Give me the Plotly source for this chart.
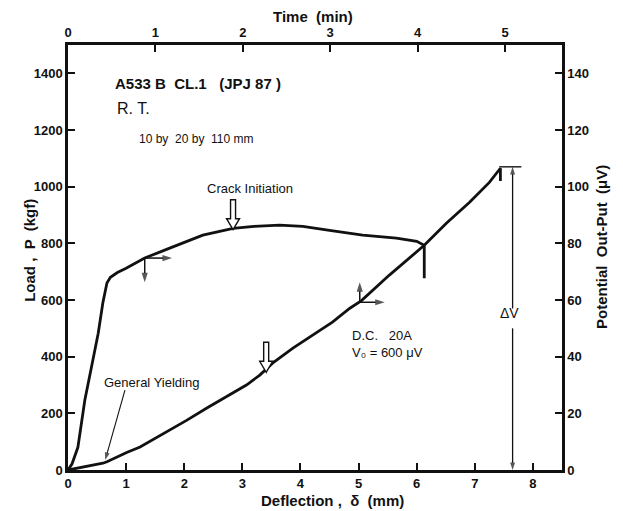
import plotly.graph_objects as go

# ---- data ----
defl_load = [0, 0.07, 0.17, 0.29, 0.43, 0.52, 0.6, 0.67, 0.73, 0.85, 1.0, 1.32, 1.75, 2.32, 2.84,
             3.2, 3.64, 4.04, 4.5, 5.07, 5.65, 6.0, 6.13, 6.13]
load_kgf = [0, 22, 80, 247, 390, 483, 590, 660, 680, 697, 712, 748, 783, 829, 853,
            860, 864, 860, 846, 829, 818, 807, 793, 677]

defl_pot = [0, 0.26, 0.6, 0.67, 1.01, 1.24, 1.53, 2.04, 2.39, 3.07, 3.3, 3.52, 3.87, 4.21,
            4.55, 4.85, 5.05, 5.53, 6.13, 6.51, 6.91, 7.25, 7.44, 7.44]
pot_uv = [0, 1.0, 2.4, 2.9, 6.2, 8.1, 11.5, 17.5, 21.9, 30.0, 33.5, 37.7, 43.0, 47.6,
          52.2, 57.1, 59.8, 68.8, 79.3, 87.1, 94.5, 101.5, 106.5, 102]

x_ticks = [0, 1, 2, 3, 4, 5, 6, 7, 8]
time_ticks = [0, 1, 2, 3, 4, 5]
load_ticks = [0, 200, 400, 600, 800, 1000, 1200, 1400]
pot_ticks = [0, 20, 40, 60, 80, 100, 120, 140]

x_range = [0, 8.5]
time_range = [0, 5.652]
load_range = [0, 1500]
pot_range = [0, 150]

# annotation anchors
crack_arrow = (2.84, 848)        # tip, load axis
pot_hollow_arrow = (3.41, 34.5)  # tip, potential axis
load_dir_pt = (1.32, 748)
load_dir_ends = (663, 1.79)
pot_dir_pt = (5.02, 59.2)
pot_dir_ends = (66.3, 5.45)
dv_x = 7.65
dv_top = 107
dv_gap = (50, 57)
dv_bar = (7.42, 7.8)
gy_tip = (0.64, 35)
gy_tail = (0.98, 282)

FONT = "Liberation Sans, DejaVu Sans"
BLACK = "#111111"

fig = go.Figure()
fig.add_trace(go.Scatter(x=defl_load, y=load_kgf, mode="lines",
                         line=dict(color=BLACK, width=2.8), showlegend=False))
fig.add_trace(go.Scatter(x=defl_pot, y=pot_uv, mode="lines", yaxis="y2",
                         line=dict(color=BLACK, width=2.8), showlegend=False))
# dummy trace on top time axis
fig.add_trace(go.Scatter(x=[None], y=[None], xaxis="x2", showlegend=False))

# top bar of delta V
fig.add_trace(go.Scatter(x=list(dv_bar), y=[dv_top, dv_top], yaxis="y2", mode="lines",
                         line=dict(color=BLACK, width=1.4), showlegend=False))


def arrow(tail, tip, yaxis="y", width=1.5, head=10):
    fig.add_trace(go.Scatter(
        x=[tail[0], tip[0]], y=[tail[1], tip[1]], yaxis=yaxis, mode="lines+markers",
        line=dict(color=BLACK, width=width),
        marker=dict(symbol=["circle", "arrow"], size=[0, head], color=BLACK,
                    angleref="previous", line=dict(width=0)),
        showlegend=False, hoverinfo="skip"))


# direction arrows on load curve
arrow(load_dir_pt, (load_dir_pt[0], load_dir_ends[0]))
arrow(load_dir_pt, (load_dir_ends[1], load_dir_pt[1]))
# direction arrows on potential curve
arrow(pot_dir_pt, (pot_dir_pt[0], pot_dir_ends[0]), yaxis="y2")
arrow(pot_dir_pt, (pot_dir_ends[1], pot_dir_pt[1]), yaxis="y2")
# delta V double arrow (gap for the label)
arrow((dv_x, dv_gap[1]), (dv_x, dv_top), yaxis="y2", width=1.3, head=8)
arrow((dv_x, dv_gap[0]), (dv_x, 0), yaxis="y2", width=1.3, head=8)
# general yielding pointer
arrow(gy_tail, gy_tip, width=1.1, head=8)

tick_font = dict(family=FONT, size=13, color=BLACK, weight="bold")
axis_common = dict(showgrid=False, zeroline=False, showline=True, linecolor=BLACK,
                   linewidth=2.5, ticks="inside", ticklen=7, tickwidth=1.8,
                   tickcolor=BLACK, tickfont=tick_font)

fig.update_layout(
    width=623, height=511,
    margin=dict(l=68, r=61, t=45, b=41),
    paper_bgcolor="white", plot_bgcolor="white",
    xaxis=dict(range=x_range, tickvals=x_ticks, **axis_common),
    xaxis2=dict(range=time_range, tickvals=time_ticks, overlaying="x", side="top",
                anchor="y", **axis_common),
    yaxis=dict(range=load_range, tickvals=load_ticks, **axis_common),
    yaxis2=dict(range=pot_range, tickvals=pot_ticks, overlaying="y", side="right",
                anchor="x", **axis_common),
)

ann = []


def text(x, y, s, size=12, xanchor="center", yref="y", weight="normal"):
    ann.append(dict(x=x, y=y, xref="x", yref=yref, text=s, showarrow=False,
                    xanchor=xanchor, yanchor="middle",
                    font=dict(family=FONT, size=size, color=BLACK, weight=weight)))


text(0.773, 1365, "A533 B  CL.1   (JPJ 87 )", size=15, xanchor="left", weight="bold")
text(0.81, 1276, "R. T.", size=16, xanchor="left")
text(1.19, 1167, "10 by  20 by  110 mm", size=12, xanchor="left")
text(3.13, 994, "Crack Initiation", size=13)
text(1.44, 310, "General Yielding", size=13)
text(4.85, 476, "D.C.   20A", size=13, xanchor="left")
text(4.85, 413, "V₀ = 600 μV", size=13, xanchor="left")
text(7.59, 554, "ΔV", size=14)


def title(x, y, s, angle=0):
    ann.append(dict(x=x, y=y, xref="paper", yref="paper", text=s, showarrow=False,
                    textangle=angle, xanchor="center", yanchor="middle",
                    font=dict(family=FONT, size=15, color=BLACK, weight="bold")))


title(0.496, 1.066, "Time  (min)")
title(0.536, -0.071, "Deflection ,  δ  (mm)")
title(-0.077, 0.518, "Load ,  P  (kgf)", angle=-90)
title(1.081, 0.525, "Potential  Out-Put  (μV)", angle=-90)

fig.update_layout(annotations=ann)

# hollow arrows drawn as pixel-sized paths anchored at their tips
hollow = "M 0 0 L -6.5 11 L -2.5 11 L -2.5 30 L 2.5 30 L 2.5 11 L 6.5 11 Z"
fig.add_shape(type="path", path=hollow, xref="x", yref="y",
              xsizemode="pixel", ysizemode="pixel",
              xanchor=crack_arrow[0], yanchor=crack_arrow[1],
              line=dict(color=BLACK, width=1.4), fillcolor="white")
fig.add_shape(type="path", path=hollow, xref="x", yref="y2",
              xsizemode="pixel", ysizemode="pixel",
              xanchor=pot_hollow_arrow[0], yanchor=pot_hollow_arrow[1],
              line=dict(color=BLACK, width=1.4), fillcolor="white")

fig.write_html("out.html")
